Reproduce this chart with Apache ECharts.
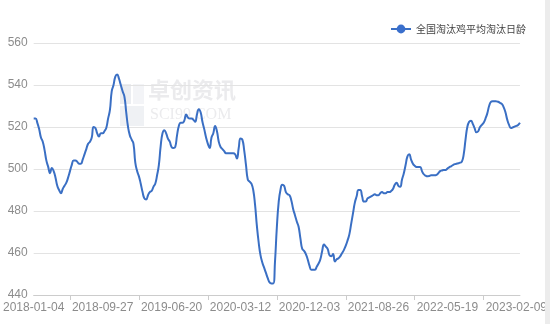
<!DOCTYPE html>
<html>
<head>
<meta charset="utf-8">
<script src="https://cdn.jsdelivr.net/npm/echarts@6/dist/echarts.min.js"></script>
<style>
html,body{margin:0;padding:0;background:#fff;}
#c{width:550px;height:324px;}
</style>
</head>
<body>
<div id="c"></div>
<script>
const seriesName = '全国淘汰鸡平均淘汰日龄';
const startDate = '2018-01-04';
const yTicks = [440, 460, 480, 500, 520, 540, 560];
const values = [
  524, 524, 522, 519, 515, 513, 509, 504, 501, 498,
  500.5, 499, 496, 492, 490, 488.5, 490.5, 492, 493.5, 496,
  499, 502, 504, 504, 503.5, 502.5, 502.5, 504.5, 507, 509.5,
  512, 513, 515, 520, 519.5, 517, 515.5, 517, 517, 518,
  519.5, 524, 528, 537, 540, 544, 545, 543, 540, 537,
  534.5, 527, 520, 516, 514, 512, 503, 499, 496.5, 493,
  489, 486, 485.5, 487.5, 489, 489.5, 491.5, 493, 497, 502,
  511, 517, 518.5, 517, 514.5, 513, 510.5, 510, 510.5, 516,
  520.5, 522, 522, 523, 526, 524.5, 524, 524, 523.5, 522.5,
  526, 528.5, 527, 522.5, 519, 515, 512, 510, 515, 517,
  520.5, 518, 513, 510.5, 509.5, 508.5, 507.5, 507.5, 507.5, 507.5,
  507.5, 507, 505, 510, 514.5, 514, 509, 502, 495, 494,
  493, 490, 483, 473, 465, 459, 455.5, 453, 450.5, 448,
  446, 445.5, 445.5, 456, 472, 484, 490, 492.5, 492, 489,
  488, 487.5, 485, 481, 478, 475, 472.5, 467, 462, 461,
  459.5, 457, 454, 452, 452, 452, 453.5, 455, 457, 461,
  464, 463, 462, 459, 458.5, 459.5, 456, 457, 457.5, 458.5,
  460, 461.5, 463.5, 466, 469, 474, 479, 484, 487, 490,
  490, 487, 484.5, 484.5, 486, 486.5, 487, 487.5, 488, 487.5,
  487.5, 488.5, 489, 488.5, 488.5, 489, 489, 489.5, 490.5, 492.5,
  493.5, 492, 491.5, 495, 498, 502, 506, 507, 504.5, 502.5,
  501.5, 501, 501, 501, 499, 497.5, 496.8, 496.5, 496.7, 497,
  497, 497, 497.2, 498, 499, 499.3, 499.5, 499.5, 500.2, 500.8,
  501.3, 501.8, 502.3, 502.5, 502.7, 503, 503.5, 507, 514, 520,
  522.5, 523, 521.5, 519.5, 517.5, 518, 520, 521, 522, 524,
  526.5, 530, 532, 532.3, 532.3, 532.2, 532, 531.5, 531, 529.5,
  527, 523.5, 521, 519.5, 519.8, 520.2, 520.5, 521, 522
];
// weekly categories starting from the first date
const categories = values.map(function (_, i) {
  const t = Date.parse(startDate + 'T00:00:00Z') + i * 7 * 86400000;
  return new Date(t).toISOString().slice(0, 10);
});

const chart = echarts.init(document.getElementById('c'), null, {renderer: 'canvas'});
const font = '"Liberation Sans", Arial, sans-serif';
chart.setOption({
  animation: false,
  backgroundColor: '#fff',
  graphic: [
    {type: 'rect', z: 100, shape: {x: 545, y: 0, width: 5, height: 324}, style: {fill: '#ececec'}},
    {type: 'rect', z: -1, shape: {x: 120, y: 84, width: 11, height: 20}, style: {fill: 'rgba(215,220,228,0.5)'}},
    {type: 'rect', z: -1, shape: {x: 133, y: 84, width: 11, height: 20}, style: {fill: 'rgba(215,220,228,0.3)'}},
    {type: 'rect', z: -1, shape: {x: 120, y: 106, width: 24, height: 20}, style: {fill: 'rgba(215,220,228,0.4)'}},
    {type: 'text', z: -1, left: 148, top: 79, style: {text: '卓创资讯', fontSize: 22, fontWeight: 'bold', fontFamily: '"Noto Sans CJK SC", sans-serif', fill: 'rgba(205,205,210,0.4)'}},
    {type: 'text', z: -1, left: 150, top: 107, style: {text: 'SCI99.COM', fontSize: 16, fontFamily: '"Liberation Serif", serif', fill: 'rgba(205,205,210,0.4)'}}
  ],
  legend: {
    data: [seriesName],
    right: 19,
    top: 19,
    itemWidth: 20,
    itemHeight: 11,
    itemGap: 10,
    textStyle: {color: '#444', fontSize: 10, fontFamily: '"Noto Sans CJK SC", sans-serif'}
  },
  grid: {left: 32, right: 20, top: 43, bottom: 29},
  xAxis: {
    type: 'category',
    data: categories,
    boundaryGap: false,
    axisLine: {lineStyle: {color: '#cccccc'}},
    axisTick: {
      show: true,
      length: 5,
      lineStyle: {color: '#cccccc'},
      interval: function (i) { return i % 38 === 20; }
    },
    axisLabel: {
      interval: 37,
      color: '#8c8c8c',
      fontSize: 12,
      margin: 7,
      fontFamily: font
    }
  },
  yAxis: {
    type: 'value',
    min: yTicks[0],
    max: yTicks[yTicks.length - 1],
    interval: 20,
    axisLine: {show: false},
    axisTick: {show: false},
    axisLabel: {color: '#8c8c8c', fontSize: 12, margin: 6, fontFamily: font},
    splitLine: {lineStyle: {color: '#e3e3e3'}}
  },
  series: [{
    name: seriesName,
    type: 'line',
    data: values,
    symbol: 'circle',
    symbolSize: 8,
    showSymbol: false,
    smooth: true,
    itemStyle: {color: '#3a6fcc'},
    lineStyle: {color: '#3a6fc4', width: 2}
  }]
});
</script>
</body>
</html>
